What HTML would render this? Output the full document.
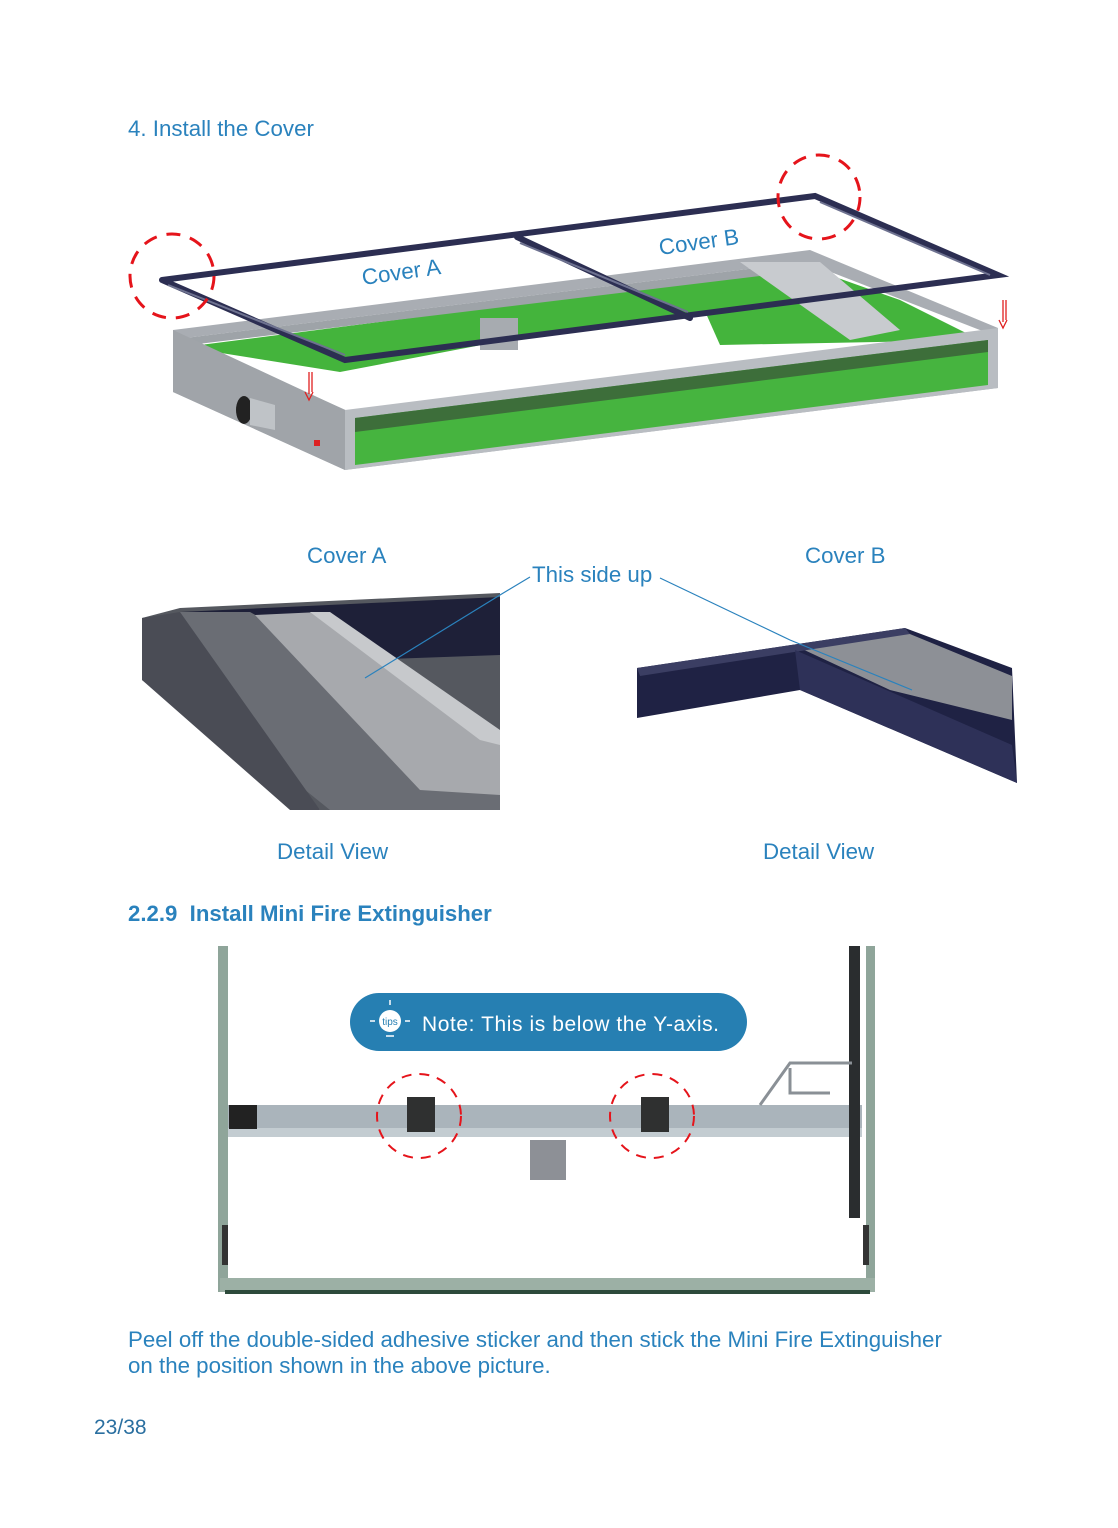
<!DOCTYPE html>
<html><head><meta charset="utf-8"><style>
html,body{margin:0;padding:0;background:#fff}
body{width:1118px;height:1528px;position:relative;overflow:hidden;font-family:"Liberation Sans",sans-serif;color:#2a82bd}
.t{position:absolute;white-space:nowrap}
</style></head><body>
<div class="t" style="left:128px;top:116px;font-size:22.3px">4. Install the Cover</div>

<svg width="1118" height="1528" style="position:absolute;left:0;top:0">
<!-- base box -->
<polygon points="173,330 810,250 998,328 998,388 345,470 173,392" fill="#a9adb3"/>
<polygon points="185,338 805,262 985,332 350,412" fill="#fff"/>
<polygon points="200,345 800,268 830,300 560,330 340,372 215,352" fill="#44b43c"/>
<polygon points="700,300 810,268 900,300 980,340 720,345" fill="#44b43c"/>
<polygon points="185,338 805,262 810,270 190,345" fill="#9ea3a8"/>
<polygon points="345,410 998,328 998,388 345,470" fill="#b9bdc2"/>
<polygon points="355,418 988,340 988,385 355,465" fill="#46b43f"/>
<polygon points="355,418 988,340 988,352 355,432" fill="#3d6e3a"/>
<polygon points="173,330 345,410 345,470 173,392" fill="#a0a4a9"/>
<rect x="480" y="318" width="38" height="32" fill="#a7abb0"/>
<polygon points="740,262 820,262 900,330 850,340" fill="#c8cbcf"/>
<ellipse cx="244" cy="410" rx="8" ry="14" fill="#222"/>
<polygon points="250,398 275,405 275,430 250,425" fill="#bfc3c7"/>
<rect x="314" y="440" width="6" height="6" fill="#d22"/>
<!-- cover frame -->
<g stroke="#2c2e52" stroke-width="6" fill="none" stroke-linecap="round">
<polyline points="162,280 815,196 998,275 345,360 162,280"/>
<line x1="517" y1="237" x2="690" y2="318"/>
</g>
<g stroke="#6e7290" stroke-width="2" fill="none">
<line x1="168" y1="285" x2="345" y2="355"/><line x1="820" y1="202" x2="990" y2="275"/><line x1="520" y1="243" x2="688" y2="312"/>
</g>
<!-- red arrows -->
<g stroke="#e02020" stroke-width="1.3" fill="none"><path d="M309,372 v22 M305,392 l4,8 l4,-8 M312,372 v20"/><path d="M1003,300 v22 M999,320 l4,8 l4,-8 M1006,300 v20"/></g>
<!-- red dashed circles -->
<g stroke="#e5141b" stroke-width="3" fill="none" stroke-dasharray="14,10">
<ellipse cx="172" cy="276" rx="42" ry="42"/><ellipse cx="819" cy="197" rx="41" ry="42"/>
</g>
<text x="363" y="285" font-size="22.3" fill="#2a82bd" transform="rotate(-8 363 285)">Cover A</text>
<text x="660" y="255" font-size="22.3" fill="#2a82bd" transform="rotate(-8 660 255)">Cover B</text>

<!-- detail A -->
<polygon points="142,618 180,608 500,593 500,810 320,810 142,680" fill="#55585f"/>
<polygon points="180,612 500,597 500,655 360,660" fill="#1e2038"/>
<polygon points="180,612 250,612 500,750 500,810 330,810 150,665 150,625" fill="#6a6d74"/>
<polygon points="255,615 320,612 500,742 500,795 420,790" fill="#a7a9ad"/>
<polygon points="310,612 330,612 500,730 500,745 480,740" fill="#c7c9cc"/>
<polygon points="142,618 180,612 320,810 290,810 142,680" fill="#4a4c55"/>
<!-- detail B -->
<polygon points="637,668 905,628 1012,668 1017,783 800,690 637,718" fill="#1f2244"/>
<polygon points="800,648 905,632 1012,676 1012,720 890,690" fill="#8d9096"/>
<polygon points="637,668 905,628 910,634 640,676" fill="#3b3e63"/>
<polygon points="795,650 800,690 1017,783 1012,745" fill="#2e3158"/>
<!-- leaders -->
<g stroke="#2a82bd" stroke-width="1.2" fill="none"><polyline points="365,678 500,595 530,577"/><polyline points="660,578 790,640 912,690"/></g>

<!-- bottom figure -->
<rect x="218" y="946" width="10" height="346" fill="#8fa59a"/>
<rect x="866" y="946" width="9" height="346" fill="#8fa59a"/>
<rect x="220" y="1278" width="655" height="14" fill="#9cb0a5"/>
<rect x="225" y="1290" width="645" height="4" fill="#2d4a3b"/>
<rect x="222" y="1225" width="6" height="40" fill="#333"/>
<rect x="863" y="1225" width="6" height="40" fill="#333"/>
<rect x="228" y="1105" width="634" height="32" fill="#aab4bb"/>
<rect x="228" y="1128" width="634" height="9" fill="#c3ccd1"/>
<rect x="229" y="1105" width="28" height="24" fill="#222"/>
<rect x="849" y="946" width="11" height="272" fill="#2a2d2f"/>
<rect x="407" y="1097" width="28" height="35" fill="#2f3030"/>
<rect x="641" y="1097" width="28" height="35" fill="#2f3030"/>
<rect x="530" y="1140" width="36" height="40" fill="#8d9096"/>
<path d="M760,1105 L790,1063 H852 M790,1068 v25 h40" stroke="#8a9096" stroke-width="3" fill="none"/>
<g stroke="#e5141b" stroke-width="2" fill="none" stroke-dasharray="10,8">
<ellipse cx="419" cy="1116" rx="42" ry="42"/><ellipse cx="652" cy="1116" rx="42" ry="42"/>
</g>
<rect x="350" y="993" width="397" height="58" rx="29" fill="#267fb2"/>
<circle cx="390" cy="1021" r="11" fill="#fff"/>
<text x="390" y="1025" font-size="10" fill="#267fb2" text-anchor="middle">tips</text>
<g stroke="#fff" stroke-width="1.5"><line x1="370" y1="1021" x2="375" y2="1021"/><line x1="405" y1="1021" x2="410" y2="1021"/><line x1="390" y1="1000" x2="390" y2="1005"/><line x1="386" y1="1036" x2="394" y2="1036"/></g>
<text x="422" y="1031" font-size="21" fill="#fff" textLength="297">Note: This is below the Y-axis.</text>
</svg>

<div class="t" style="left:307px;top:543px;font-size:22.3px">Cover A</div>
<div class="t" style="left:805px;top:543px;font-size:22.3px">Cover B</div>
<div class="t" style="left:532px;top:562px;font-size:22.3px">This side up</div>
<div class="t" style="left:277px;top:839px;font-size:22.3px">Detail View</div>
<div class="t" style="left:763px;top:839px;font-size:22.3px">Detail View</div>
<div class="t" style="left:128px;top:901px;font-size:22.2px;font-weight:bold">2.2.9&nbsp; Install Mini Fire Extinguisher</div>
<div class="t" style="left:128px;top:1327px;font-size:22.3px;line-height:26px">Peel off the double-sided adhesive sticker and then stick the Mini Fire Extinguisher<br>on the position shown in the above picture.</div>
<div class="t" style="left:94px;top:1416px;font-size:21px;color:#2a6fa0">23/38</div>
</body></html>
